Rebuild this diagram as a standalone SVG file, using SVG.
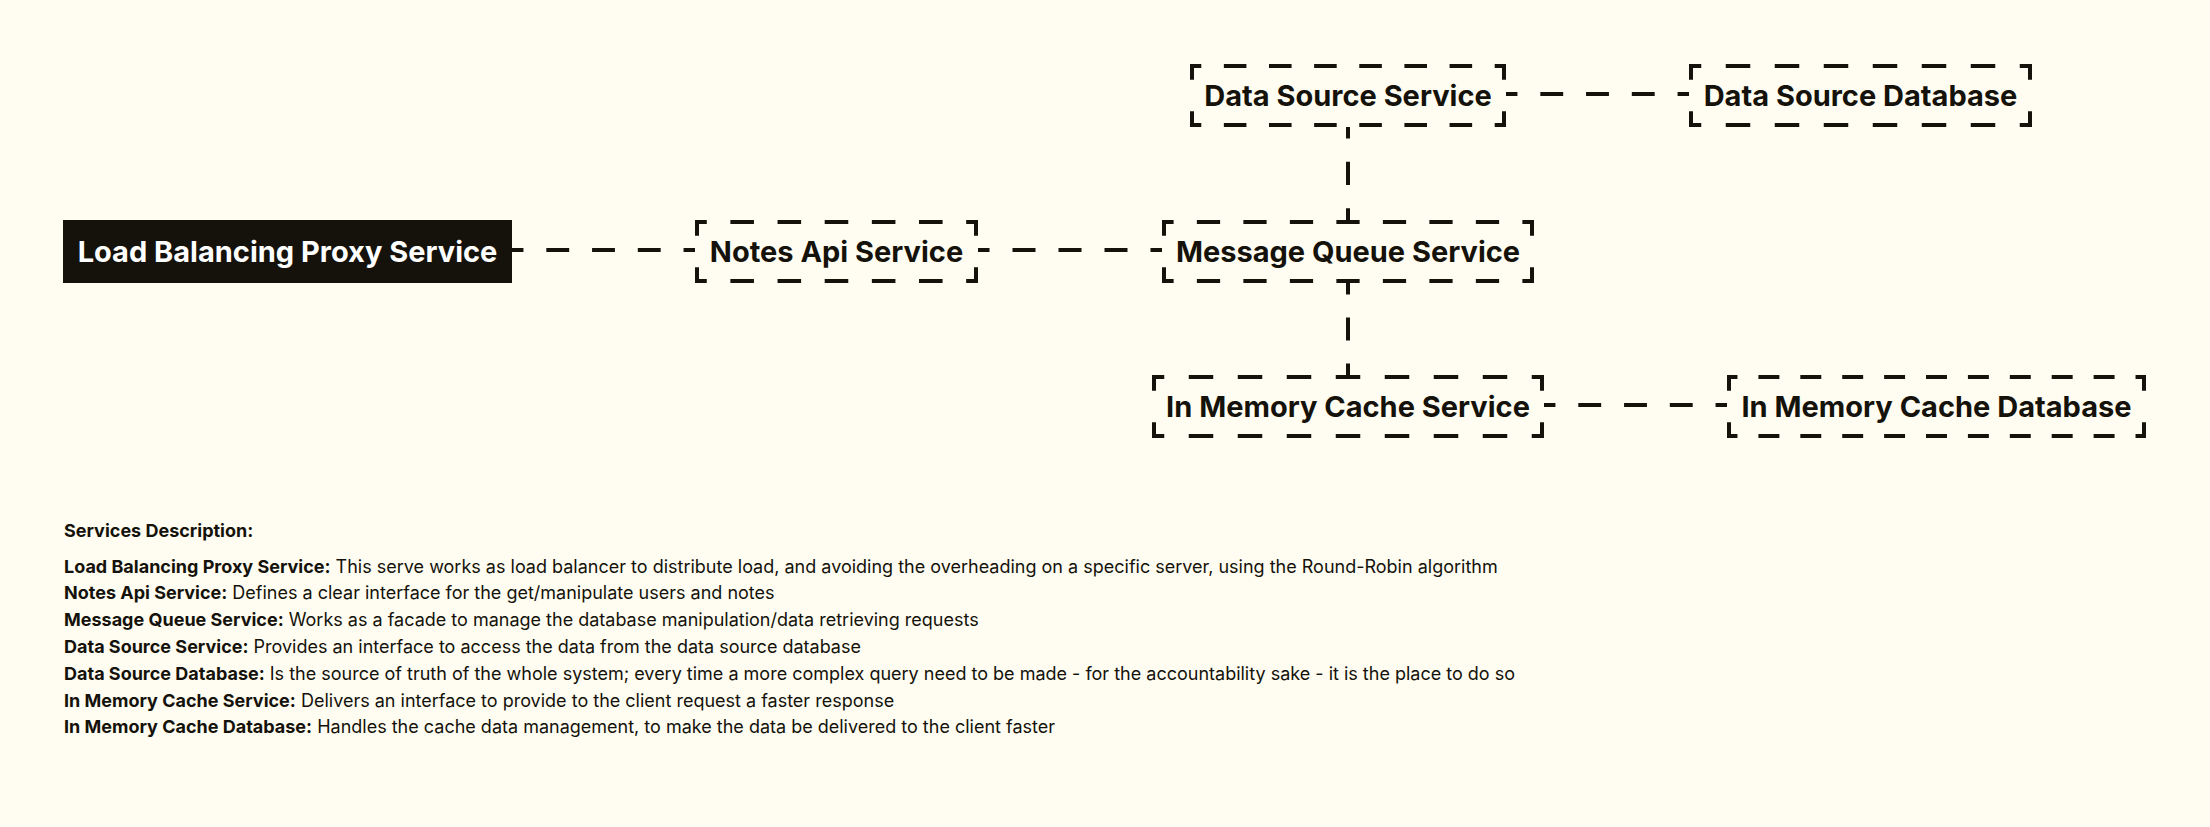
<svg xmlns="http://www.w3.org/2000/svg" width="2210" height="827" viewBox="0 0 2210 827">
<style>
.bg{fill:#fffdf1}
.d{stroke:#14120b;stroke-width:4;fill:none}
.lbl{font-family:Inter,"Liberation Sans",sans-serif;font-weight:700;font-size:29px;fill:#14120b;text-anchor:middle}
.lblw{fill:#ffffff}
.desc{font-family:Inter,"Liberation Sans",sans-serif;font-size:18px;fill:#14120b}
.b{font-weight:700}
</style>
<rect class="bg" x="0" y="0" width="2210" height="827"/>
<g id="connectors">
<line class="d" x1="512" y1="250" x2="695" y2="250" stroke-dasharray="22.875 22.875" stroke-dashoffset="11.44"/>
<line class="d" x1="978" y1="250" x2="1162" y2="250" stroke-dasharray="23 23" stroke-dashoffset="11.5"/>
<line class="d" x1="1506" y1="94" x2="1689" y2="94" stroke-dasharray="22.875 22.875" stroke-dashoffset="11.44"/>
<line class="d" x1="1544" y1="405" x2="1727" y2="405" stroke-dasharray="22.875 22.875" stroke-dashoffset="11.44"/>
<line class="d" x1="1348" y1="127" x2="1348" y2="220" stroke-dasharray="23.25 23.25" stroke-dashoffset="11.63"/>
<line class="d" x1="1348" y1="283" x2="1348" y2="375" stroke-dasharray="23 23" stroke-dashoffset="11.5"/>
</g>
<g id="lb">
<rect x="63" y="220" width="449" height="63" fill="#14120b"/>
<text class="lbl lblw" x="287.5" y="261.5">Load Balancing Proxy Service</text>
</g>
<g id="notes">
<rect x="697" y="222" width="279" height="59" class="bg"/>
<line class="d" x1="695" y1="222" x2="978" y2="222" stroke-dasharray="23.58 23.58" stroke-dashoffset="11.79"/>
<line class="d" x1="695" y1="281" x2="978" y2="281" stroke-dasharray="23.58 23.58" stroke-dashoffset="11.79"/>
<line class="d" x1="697" y1="220" x2="697" y2="283" stroke-dasharray="31.5 31.5" stroke-dashoffset="15.75"/>
<line class="d" x1="976" y1="220" x2="976" y2="283" stroke-dasharray="31.5 31.5" stroke-dashoffset="15.75"/>
<text class="lbl" x="836.5" y="261.5">Notes Api Service</text>
</g>
<g id="mq">
<line class="d" x1="1162" y1="222" x2="1534" y2="222" stroke-dasharray="23.25 23.25" stroke-dashoffset="11.63"/>
<line class="d" x1="1162" y1="281" x2="1534" y2="281" stroke-dasharray="23.25 23.25" stroke-dashoffset="11.63"/>
<line class="d" x1="1164" y1="220" x2="1164" y2="283" stroke-dasharray="31.5 31.5" stroke-dashoffset="15.75"/>
<line class="d" x1="1532" y1="220" x2="1532" y2="283" stroke-dasharray="31.5 31.5" stroke-dashoffset="15.75"/>
<text class="lbl" x="1348" y="261.5">Message Queue Service</text>
</g>
<g id="ds">
<line class="d" x1="1190" y1="66" x2="1506" y2="66" stroke-dasharray="22.571 22.571" stroke-dashoffset="11.29"/>
<line class="d" x1="1190" y1="125" x2="1506" y2="125" stroke-dasharray="22.571 22.571" stroke-dashoffset="11.29"/>
<line class="d" x1="1192" y1="64" x2="1192" y2="127" stroke-dasharray="31.5 31.5" stroke-dashoffset="15.75"/>
<line class="d" x1="1504" y1="64" x2="1504" y2="127" stroke-dasharray="31.5 31.5" stroke-dashoffset="15.75"/>
<text class="lbl" x="1348" y="105.5">Data Source Service</text>
</g>
<g id="dsdb">
<line class="d" x1="1689" y1="66" x2="2032" y2="66" stroke-dasharray="24.5 24.5" stroke-dashoffset="12.25"/>
<line class="d" x1="1689" y1="125" x2="2032" y2="125" stroke-dasharray="24.5 24.5" stroke-dashoffset="12.25"/>
<line class="d" x1="1691" y1="64" x2="1691" y2="127" stroke-dasharray="31.5 31.5" stroke-dashoffset="15.75"/>
<line class="d" x1="2030" y1="64" x2="2030" y2="127" stroke-dasharray="31.5 31.5" stroke-dashoffset="15.75"/>
<text class="lbl" x="1860.5" y="105.5">Data Source Database</text>
</g>
<g id="imcs">
<line class="d" x1="1152" y1="377" x2="1544" y2="377" stroke-dasharray="24.5 24.5" stroke-dashoffset="12.25"/>
<line class="d" x1="1152" y1="436" x2="1544" y2="436" stroke-dasharray="24.5 24.5" stroke-dashoffset="12.25"/>
<line class="d" x1="1154" y1="375" x2="1154" y2="438" stroke-dasharray="31.5 31.5" stroke-dashoffset="15.75"/>
<line class="d" x1="1542" y1="375" x2="1542" y2="438" stroke-dasharray="31.5 31.5" stroke-dashoffset="15.75"/>
<text class="lbl" x="1348" y="416.5">In Memory Cache Service</text>
</g>
<g id="imcdb">
<line class="d" x1="1727" y1="377" x2="2146" y2="377" stroke-dasharray="20.95 20.95" stroke-dashoffset="10.48"/>
<line class="d" x1="1727" y1="436" x2="2146" y2="436" stroke-dasharray="20.95 20.95" stroke-dashoffset="10.48"/>
<line class="d" x1="1729" y1="375" x2="1729" y2="438" stroke-dasharray="31.5 31.5" stroke-dashoffset="15.75"/>
<line class="d" x1="2144" y1="375" x2="2144" y2="438" stroke-dasharray="31.5 31.5" stroke-dashoffset="15.75"/>
<text class="lbl" x="1936.5" y="416.5">In Memory Cache Database</text>
</g>
<g id="description" class="desc">
<text class="b" x="64" y="536.5">Services Description:</text>
<text x="64" y="572.5"><tspan class="b">Load Balancing Proxy Service:</tspan> This serve works as load balancer to distribute load, and avoiding the overheading on a specific server, using the Round-Robin algorithm</text>
<text x="64" y="599.3"><tspan class="b">Notes Api Service:</tspan> Defines a clear interface for the get/manipulate users and notes</text>
<text x="64" y="626.1"><tspan class="b">Message Queue Service:</tspan> Works as a facade to manage the database manipulation/data retrieving requests</text>
<text x="64" y="652.9"><tspan class="b">Data Source Service:</tspan> Provides an interface to access the data from the data source database</text>
<text x="64" y="679.7"><tspan class="b">Data Source Database:</tspan> Is the source of truth of the whole system; every time a more complex query need to be made - for the accountability sake - it is the place to do so</text>
<text x="64" y="706.5"><tspan class="b">In Memory Cache Service:</tspan> Delivers an interface to provide to the client request a faster response</text>
<text x="64" y="733.3"><tspan class="b">In Memory Cache Database:</tspan> Handles the cache data management, to make the data be delivered to the client faster</text>
</g>
</svg>
